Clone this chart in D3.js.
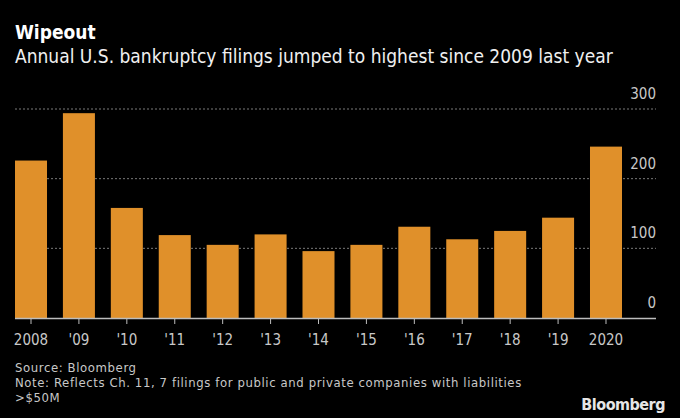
<!DOCTYPE html>
<html>
<head>
<meta charset="utf-8">
<script src="https://cdn.jsdelivr.net/npm/d3@7"></script>
<style>
  html, body { margin: 0; padding: 0; background: #000; }
  svg { display: block; }
  text { font-family: "DejaVu Sans Condensed", "DejaVu Sans", sans-serif; }
</style>
</head>
<body>
<svg id="chart" width="680" height="418"></svg>
<script>
const years = ["2008", "'09", "'10", "'11", "'12", "'13", "'14", "'15", "'16", "'17", "'18", "'19", "2020"];
const filings = [226, 294, 158, 119, 105, 120, 96, 105, 131, 113, 125, 144, 246];
const yTicks = [0, 100, 200, 300];

const W = 680, H = 418;
const svg = d3.select("#chart");
svg.append("rect").attr("width", W).attr("height", H).attr("fill", "#000");

const x = d3.scaleBand().domain(years).range([15, 622]).paddingInner(0.332).paddingOuter(0);
const y = d3.scaleLinear().domain([0, 300]).range([318, 109]);

// gridlines
svg.append("g").selectAll("line").data(yTicks.filter(d => d > 0)).join("line")
  .attr("x1", 15).attr("x2", 656)
  .attr("y1", d => y(d)).attr("y2", d => y(d))
  .attr("stroke", "#7a7a7a").attr("stroke-width", 1)
  .attr("stroke-dasharray", "2,2");

// y labels
svg.append("g").selectAll("text").data(yTicks).join("text")
  .attr("x", 656).attr("y", d => y(d) - 10)
  .attr("text-anchor", "end")
  .attr("fill", "#c8c8c8").attr("font-size", 15)
  .text(d => d);

// bars
svg.append("g").selectAll("rect").data(filings).join("rect")
  .attr("x", (d, i) => x(years[i]))
  .attr("width", x.bandwidth())
  .attr("y", d => y(d))
  .attr("height", d => y(0) - y(d))
  .attr("fill", "#e0902a");

// x axis
const xAxis = svg.append("g").attr("transform", `translate(0,${y(0)})`)
  .call(d3.axisBottom(x).tickSize(6).tickSizeOuter(0));
xAxis.select(".domain").remove();
xAxis.append("line").attr("x1", 15).attr("x2", 656).attr("y1", 0.5).attr("y2", 0.5)
  .attr("stroke", "#bdbdbd").attr("stroke-width", 1.5);
xAxis.selectAll(".tick line").attr("stroke", "#bdbdbd");
xAxis.selectAll(".tick text")
  .attr("fill", "#c8c8c8").attr("font-size", 15)
  .attr("font-family", "\"DejaVu Sans Condensed\", sans-serif")
  .attr("dy", null).attr("y", 27);

// titles
svg.append("text").attr("x", 15).attr("y", 39)
  .attr("fill", "#fff").attr("font-size", 19).attr("font-weight", "bold")
  .text("Wipeout");
svg.append("text").attr("x", 15).attr("y", 63)
  .attr("fill", "#f0f0f0").attr("font-size", 19)
  .text("Annual U.S. bankruptcy filings jumped to highest since 2009 last year");

// footer
const foot = ["Source: Bloomberg",
  "Note: Reflects Ch. 11, 7 filings for public and private companies with liabilities",
  ">$50M"];
svg.append("g").selectAll("text").data(foot).join("text")
  .attr("x", 15).attr("y", (d, i) => 372 + i * 15)
  .attr("fill", "#c8c8c8").attr("font-size", 13)
  .attr("letter-spacing", "0.6")
  .text(d => d);

svg.append("text").attr("x", 665).attr("y", 410)
  .attr("text-anchor", "end")
  .attr("fill", "#e6e6e6").attr("font-size", 16).attr("font-weight", "bold")
  .attr("font-family", "\"Liberation Sans\", Arial, sans-serif")
  .attr("letter-spacing", "-0.5")
  .text("Bloomberg");
</script>
</body>
</html>
